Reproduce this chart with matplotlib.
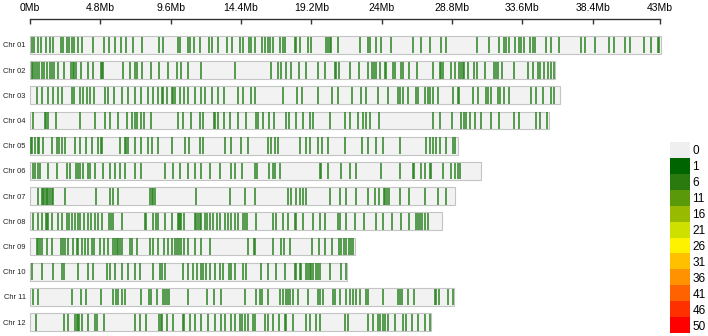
import numpy as np
import matplotlib.pyplot as plt

plt.rcParams['font.family'] = ['Liberation Sans', 'DejaVu Sans']

chrom_names = ['Chr 01', 'Chr 02', 'Chr 03', 'Chr 04', 'Chr 05', 'Chr 06',
               'Chr 07', 'Chr 08', 'Chr 09', 'Chr 10', 'Chr 11', 'Chr 12']
chrom_len = [43.1, 35.86, 36.2, 35.4, 29.2, 30.79, 29.0, 28.13, 22.15, 21.63, 28.97, 27.38]

# marker positions (Mb), one list per chromosome
chr01 = [0.12, 0.29, 0.52, 0.73, 1.07, 1.36, 1.59, 2.11, 2.27, 2.50, 2.66, 2.84, 3.00, 3.25, 3.56,
         4.31, 5.06, 5.40, 5.79, 6.2, 6.54, 7.04, 7.62, 8.81, 9.09, 10.07, 10.22, 10.75, 10.9, 11.2,
         11.59, 12.23, 12.39, 12.84, 13.48, 13.82, 14.32, 14.54, 14.95, 15.11, 15.39, 15.86, 16.02,
         16.24, 16.36, 16.59, 17.04, 17.27, 17.38, 18.06, 18.18, 18.4, 18.97, 19.2, 20.22, 20.33,
         20.45, 20.57, 21.02, 22.54, 23.06, 23.18, 23.63, 23.97, 24.66, 26.13, 26.7, 27.27, 28.06,
         28.4, 30.52, 31.36, 31.99, 32.33, 32.5, 32.67, 33.13, 33.4, 33.52, 33.74, 34.15, 34.31,
         34.47, 35.22, 35.56, 36.13, 37.61, 37.88, 38.58, 39.49, 39.88, 40.61, 40.97, 41.88, 42.38,
         42.83, 42.95]
chr02 = [0.12, 0.22, 0.34, 0.5, 0.61, 0.8, 0.95, 1.14, 1.36, 1.48, 1.64, 1.93, 2.34, 2.8, 2.91,
         3.02, 3.12, 3.48, 3.93, 4.32, 4.84, 4.93, 5.0, 6.36, 6.82, 7.2, 7.28, 7.66, 8.25, 8.8,
         9.43, 10.0, 10.34, 10.79, 11.7, 13.97, 16.48, 16.93, 17.16, 17.5, 17.84, 18.36, 18.81,
         19.65, 20.11, 20.79, 20.9, 21.06, 21.81, 22.45, 23.06, 23.36, 23.47, 23.63, 23.86, 24.2,
         24.31, 24.77, 24.88, 25.34, 25.45, 25.9, 26.4, 27.49, 27.95, 28.06, 28.17, 28.74, 29.04,
         29.31, 29.43, 29.54, 29.65, 29.88, 30.29, 30.52, 31.06, 31.65, 31.81, 31.97, 32.2, 33.01,
         34.02, 34.31, 34.65, 34.82, 35.11, 35.38, 35.56, 35.74]
chr03 = [0.46, 0.84, 1.2, 1.59, 1.93, 2.16, 2.84, 3.02, 3.41, 3.63, 3.86, 4.09, 4.36, 5.11, 5.34,
         5.75, 6.25, 6.7, 7.16, 7.61, 8.02, 8.41, 8.71, 8.98, 9.09, 9.32, 9.66, 9.73, 9.88, 10.22,
         10.52, 10.79, 11.25, 11.7, 11.93, 12.39, 12.8, 13.25, 14.2, 14.54, 15.07, 15.34, 17.27,
         18.25, 18.59, 19.65, 20.63, 21.02, 22.0, 22.61, 22.95, 23.74, 24.42, 25.11, 25.22, 25.45,
         25.79, 26.36, 26.47, 26.93, 27.15, 27.27, 27.49, 27.83, 28.86, 29.2, 29.31, 30.22, 30.56,
         31.13, 31.24, 31.47, 31.92, 32.11, 32.38, 32.72, 34.2, 34.54, 34.99, 35.56, 35.74]
chr04 = [0.22, 1.02, 1.09, 1.2, 1.75, 3.41, 4.43, 5.11, 5.45, 6.02, 6.59, 6.93, 7.16, 7.27, 7.61,
         7.79, 8.25, 10.07, 10.45, 11.02, 11.59, 11.81, 12.56, 12.66, 12.8, 13.25, 13.63, 14.2,
         14.77, 15.41, 15.56, 15.9, 16.31, 16.65, 17.45, 17.68, 18.13, 18.63, 19.09, 19.31, 20.45,
         21.47, 21.81, 22.38, 22.72, 22.9, 23.18, 23.81, 27.49, 27.95, 28.81, 29.43, 29.6, 29.77,
         30.06, 30.38, 30.79, 31.47, 32.04, 33.06, 33.4, 34.54, 34.83, 35.29]
chr05 = [0.07, 0.16, 0.34, 0.52, 0.61, 0.91, 1.48, 1.82, 1.98, 2.16, 2.39, 3.07, 3.41, 3.8, 4.21,
         4.62, 4.84, 4.93, 6.13, 6.48, 6.54, 6.7, 7.16, 7.61, 8.02, 8.34, 8.75, 9.66, 10.57, 10.84,
         11.59, 11.81, 13.29, 13.75, 14.43, 14.88, 16.24, 16.48, 16.7, 16.93, 18.4, 18.81, 19.09,
         19.65, 19.95, 20.34, 21.47, 22.68, 23.06, 23.63, 24.09, 25.22, 27.04, 27.27, 27.49, 27.72,
         27.95, 28.36, 28.86, 29.04]
chr06 = [0.22, 0.34, 0.57, 0.68, 1.25, 1.82, 2.5, 2.73, 3.12, 3.25, 3.41, 3.63, 3.97, 4.09, 4.43,
         5.0, 5.45, 5.79, 6.13, 6.48, 7.16, 7.61, 9.2, 9.77, 10.22, 10.79, 11.25, 11.7, 12.27,
         12.95, 13.75, 14.02, 14.5, 15.34, 15.49, 16.31, 16.59, 16.7, 17.09, 19.77, 19.88, 20.33,
         21.25, 21.81, 22.27, 23.97, 25.22, 26.13, 26.24, 26.7, 26.93, 27.27, 27.38, 28.17, 28.74,
         29.04, 29.2, 29.38]
chr07 = [0.57, 0.84, 0.91, 0.98, 1.07, 1.14, 1.25, 1.36, 1.48, 1.59, 2.39, 4.5, 5.45, 5.68, 6.02,
         8.18, 8.3, 8.41, 8.52, 11.3, 13.63, 14.66, 15.34, 17.61, 17.84, 18.13, 18.4, 18.63, 18.86,
         20.45, 21.13, 21.59, 22.27, 23.06, 23.52, 23.81, 24.13, 24.24, 24.35, 24.49, 25.27, 25.9,
         26.99, 27.83, 28.4]
chr08 = [0.22, 0.57, 0.84, 1.07, 1.14, 1.2, 1.48, 1.89, 2.2, 2.5, 2.68, 2.84, 3.07, 3.25, 3.41,
         3.70, 3.93, 4.16, 4.43, 4.61, 4.89, 5.38, 5.52, 5.68, 6.25, 7.88, 7.95, 8.41, 8.57, 8.75,
         9.2, 9.66, 10.07, 10.16, 10.25, 10.34, 10.52, 11.25, 11.36, 11.47, 11.59, 11.7, 11.93,
         12.11, 12.27, 12.5, 12.73, 12.95, 13.29, 13.52, 13.75, 13.97, 14.2, 14.54, 14.66, 14.82,
         15.41, 16.59, 16.77, 17.27, 17.61, 18.06, 18.18, 18.63, 19.31, 19.77, 20.11, 21.02, 21.18,
         21.59, 22.15, 22.77, 23.63, 24.09, 24.73, 25.34, 25.9, 26.36, 26.47, 26.59, 26.77, 26.93,
         27.15]
chr09 = [0.46, 0.57, 0.68, 0.84, 1.14, 1.48, 2.11, 2.27, 2.39, 2.61, 2.95, 3.18, 3.29, 3.56, 3.75,
         3.97, 4.2, 4.38, 4.77, 5.06, 5.34, 5.68, 5.79, 5.91, 6.02, 6.13, 6.25, 6.82, 6.93, 7.27,
         8.18, 8.41, 8.75, 9.16, 9.43, 9.66, 9.88, 10.0, 10.16, 10.34, 10.52, 10.75, 11.25, 11.7,
         12.27, 14.88, 15.27, 15.39, 16.59, 17.16, 17.34, 17.72, 19.27, 19.72, 20.11, 20.63, 21.08,
         21.25, 21.4, 21.59, 21.77, 21.93, 22.04]
chr10 = [0.16, 0.8, 1.59, 2.2, 2.34, 3.29, 3.97, 4.32, 5.23, 5.45, 5.79, 6.29, 6.7, 7.16, 7.5,
         8.41, 8.86, 8.98, 9.2, 10.45, 10.79, 11.13, 11.43, 11.66, 11.81, 11.98, 12.27, 12.66,
         12.95, 13.18, 13.57, 13.75, 13.97, 14.54, 14.72, 15.79, 16.24, 16.77, 17.38, 18.06, 18.18,
         18.4, 18.52, 18.81, 18.97, 19.09, 19.2, 19.31, 19.5, 19.65, 19.77, 20.45, 21.25, 21.59]
chr11 = [0.22, 0.57, 2.84, 3.48, 3.8, 4.84, 5.68, 5.84, 6.02, 6.25, 6.48, 7.57, 8.11, 8.25, 8.7,
         9.09, 9.2, 9.32, 9.48, 10.75, 12.11, 12.56, 13.02, 14.66, 15.45, 15.68, 15.86, 16.24,
         17.04, 17.27, 17.45, 17.61, 17.77, 17.95, 18.29, 18.97, 19.65, 19.77, 19.99, 20.68, 20.79,
         21.13, 21.59, 21.81, 22.04, 22.27, 22.5, 22.9, 23.06, 24.09, 25.11, 25.22, 25.4, 25.79,
         26.24, 27.61, 27.72, 27.9, 28.52, 28.9]
chr12 = [0.39, 2.34, 2.61, 3.07, 3.18, 3.25, 3.34, 3.56, 3.97, 4.43, 4.55, 5.06, 7.16, 7.5, 7.89,
         8.79, 8.93, 9.02, 9.32, 9.77, 10.45, 10.52, 10.91, 11.25, 11.7, 12.16, 12.61, 13.07, 13.29,
         13.75, 13.97, 14.31, 14.5, 14.66, 14.88, 15.22, 15.34, 16.02, 16.24, 16.59, 17.0, 17.38,
         17.5, 17.95, 18.86, 19.09, 19.54, 19.77, 21.47, 21.7, 23.06, 23.4, 23.74, 23.86, 24.09,
         24.2, 24.43, 24.88, 25.45, 25.68, 26.09, 26.47, 26.93, 27.27]
markers = [chr01, chr02, chr03, chr04, chr05, chr06, chr07, chr08, chr09, chr10, chr11, chr12]

tick_pos = [0, 4.8, 9.6, 14.4, 19.2, 24, 28.8, 33.6, 38.4, 43]
tick_labels = ['0Mb', '4.8Mb', '9.6Mb', '14.4Mb', '19.2Mb', '24Mb', '28.8Mb', '33.6Mb', '38.4Mb', '43Mb']

legend_labels = ['0', '1', '6', '11', '16', '21', '26', '31', '36', '41', '46', '50']
legend_colors = ['#efefef', '#006400', '#2b7a10', '#5a990a', '#98ba00', '#cde000', '#fff200',
                 '#ffc000', '#ff9200', '#ff6200', '#ff3000', '#ff0000']

fig = plt.figure(figsize=(7.08, 3.36), dpi=100)
ax = fig.add_axes([30 / 708, 0, 630 / 708, 1 - 19 / 336])

bar_h = 0.71
for i in range(len(chrom_names)):
    ax.barh(i, chrom_len[i], left=0, height=bar_h, color='#f2f2f2', edgecolor='#c4c4c4',
            linewidth=0.8, clip_on=False, zorder=1)
    ax.vlines(markers[i], i - bar_h / 2 + 0.02, i + bar_h / 2 - 0.02, color='#2a8420',
              linewidth=1.1, zorder=2, clip_on=False)

ax.set_xlim(0, 43)
ax.set_ylim(11.55, -1.03)
ax.set_yticks(range(len(chrom_names)))
ax.set_yticklabels(chrom_names, fontsize=5.4, color='#222222')
ax.tick_params(axis='y', length=0, pad=3)

ax.xaxis.tick_top()
ax.set_xticks(tick_pos)
ax.set_xticklabels(tick_labels, fontsize=7.5)
ax.tick_params(axis='x', direction='in', length=3.5, width=1, color='#333333', pad=4)

for s in ['left', 'right', 'bottom']:
    ax.spines[s].set_visible(False)
ax.spines['top'].set_color('#333333')
ax.spines['top'].set_linewidth(1)
ax.patch.set_alpha(0)

# legend scale
lax = fig.add_axes([670 / 708, 3 / 336, 19.5 / 708, 191 / 336])
lax.barh(range(len(legend_labels)), 1, height=1, color=legend_colors)
lax.set_xlim(0, 1)
lax.set_ylim(len(legend_labels) - 0.5, -0.5)
lax.yaxis.tick_right()
lax.set_yticks(range(len(legend_labels)))
lax.set_yticklabels(legend_labels, fontsize=8.5)
lax.tick_params(axis='y', length=0, pad=2)
lax.set_xticks([])
for s in lax.spines.values():
    s.set_visible(False)

fig.savefig('out.png', dpi=100)
